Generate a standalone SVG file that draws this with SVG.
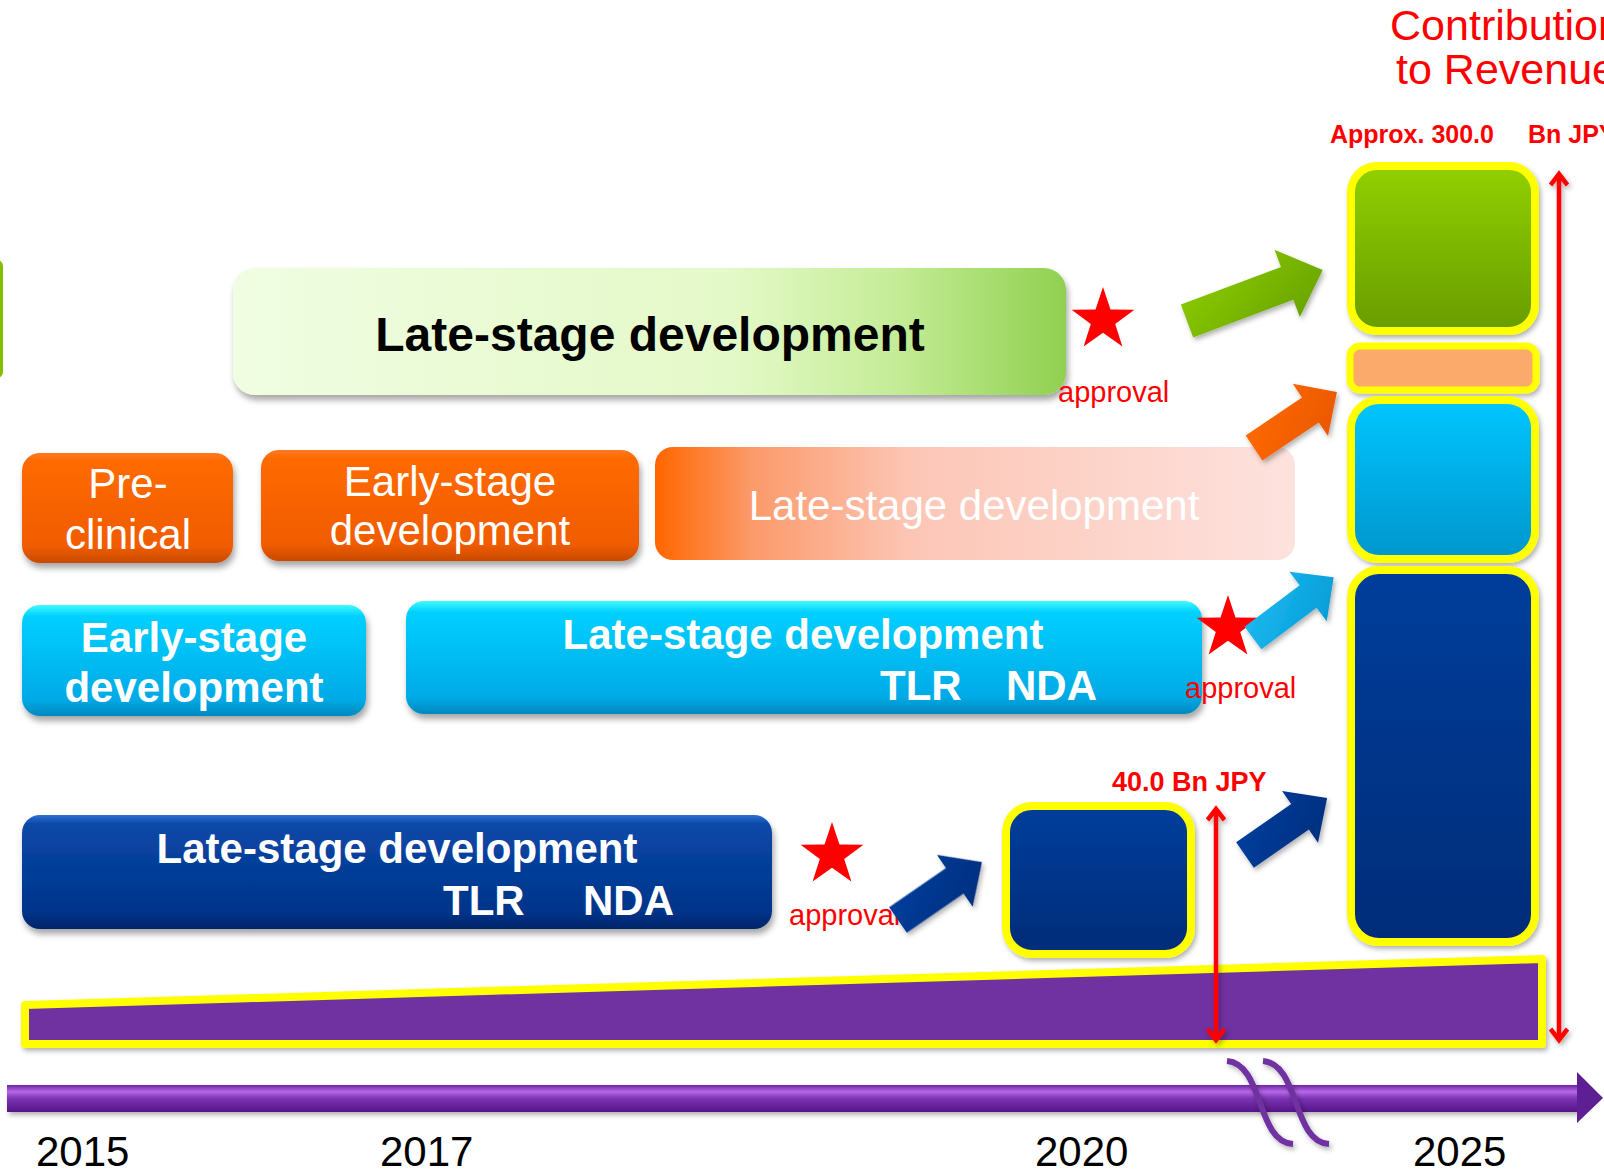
<svg xmlns="http://www.w3.org/2000/svg" width="1604" height="1174" viewBox="0 0 1604 1174">
<defs>
<filter id="sh" x="-10%" y="-20%" width="120%" height="150%"><feDropShadow dx="2" dy="5" stdDeviation="3" flood-color="#000" flood-opacity="0.35"/></filter>
<filter id="sh2" x="-20%" y="-20%" width="140%" height="150%"><feDropShadow dx="2" dy="3" stdDeviation="2.5" flood-color="#000" flood-opacity="0.3"/></filter>
<linearGradient id="gOr" x1="0" y1="0" x2="0" y2="1"><stop offset="0" stop-color="#ff7a20"/><stop offset="0.08" stop-color="#ff6a00"/><stop offset="0.85" stop-color="#f05c00"/><stop offset="1" stop-color="#c84a00"/></linearGradient>
<linearGradient id="gCy" x1="0" y1="0" x2="0" y2="1"><stop offset="0" stop-color="#40faff"/><stop offset="0.1" stop-color="#00d0ff"/><stop offset="0.85" stop-color="#00aae6"/><stop offset="1" stop-color="#0088c0"/></linearGradient>
<linearGradient id="gBl" x1="0" y1="0" x2="0" y2="1"><stop offset="0" stop-color="#3070d0"/><stop offset="0.08" stop-color="#0a48a8"/><stop offset="0.85" stop-color="#00348a"/><stop offset="1" stop-color="#002468"/></linearGradient>
<linearGradient id="gGrL" x1="0" y1="0" x2="1" y2="0"><stop offset="0" stop-color="#f0fde2"/><stop offset="0.6" stop-color="#e4f9c8"/><stop offset="0.8" stop-color="#c4ec96"/><stop offset="1" stop-color="#90d050"/></linearGradient>
<linearGradient id="gOrL" x1="0" y1="0" x2="1" y2="0"><stop offset="0" stop-color="#ff6600"/><stop offset="0.15" stop-color="#fb9a6a"/><stop offset="0.4" stop-color="#fcc6b6"/><stop offset="1" stop-color="#fde2de"/></linearGradient>
<linearGradient id="gGrB" x1="0" y1="0" x2="0" y2="1"><stop offset="0" stop-color="#92d000"/><stop offset="1" stop-color="#689c00"/></linearGradient>
<linearGradient id="gCyB" x1="0" y1="0" x2="0" y2="1"><stop offset="0" stop-color="#00c6ff"/><stop offset="1" stop-color="#0096cc"/></linearGradient>
<linearGradient id="gBlB" x1="0" y1="0" x2="0" y2="1"><stop offset="0" stop-color="#003e9c"/><stop offset="1" stop-color="#002c78"/></linearGradient>
<linearGradient id="gTl" x1="0" y1="0" x2="0" y2="1"><stop offset="0" stop-color="#6a28a0"/><stop offset="0.25" stop-color="#b868ea"/><stop offset="0.5" stop-color="#7a34b2"/><stop offset="1" stop-color="#561488"/></linearGradient>
<linearGradient id="aGr" x1="0" y1="0" x2="1" y2="1"><stop offset="0" stop-color="#8ccc00"/><stop offset="1" stop-color="#66a000"/></linearGradient>
<linearGradient id="aOr" x1="0" y1="0" x2="1" y2="1"><stop offset="0" stop-color="#ff6c00"/><stop offset="1" stop-color="#e85400"/></linearGradient>
<linearGradient id="aCy" x1="0" y1="0" x2="1" y2="1"><stop offset="0" stop-color="#20bcf2"/><stop offset="1" stop-color="#0098d4"/></linearGradient>
<linearGradient id="aBl" x1="0" y1="0" x2="1" y2="1"><stop offset="0" stop-color="#0040a0"/><stop offset="1" stop-color="#002c7a"/></linearGradient>
<marker id="rh" viewBox="0 0 20 20" markerWidth="20" markerHeight="20" refX="16" refY="10" orient="auto-start-reverse" markerUnits="userSpaceOnUse"><path d="M5,1.5 L16,10 L5,18.5" fill="none" stroke="#ff0000" stroke-width="4.5" stroke-linejoin="miter"/></marker>
<style>
text{font-family:"Liberation Sans",Arial,sans-serif}
.w{fill:#fff;font-size:42px;text-anchor:middle}
.wb{fill:#fff;font-size:42px;font-weight:bold}
.red{fill:#ff0000}
.yr{fill:#000;font-size:42px}
.yb{stroke:#ffff00;stroke-width:8}
.ap{fill:#ff0000;font-size:29px}
</style>
</defs>
<rect width="1604" height="1174" fill="#fff"/>

<g id="left-green-edge"><rect x="-20" y="260" width="23" height="118" rx="6" fill="#80c000"/></g>

<g id="green-late"><rect x="233" y="268" width="833" height="127" rx="22" fill="url(#gGrL)" filter="url(#sh)"/>
<text x="650" y="351" style="font-size:48px;font-weight:bold;text-anchor:middle" fill="#000">Late-stage development</text></g>

<g id="pre-clinical"><rect x="22" y="453" width="211" height="110" rx="18" fill="url(#gOr)" filter="url(#sh)"/>
<text class="w" x="128" y="498">Pre-</text><text class="w" x="128" y="549">clinical</text></g>

<g id="orange-early"><rect x="261" y="450" width="378" height="111" rx="18" fill="url(#gOr)" filter="url(#sh)"/>
<text class="w" x="450" y="496">Early-stage</text><text class="w" x="450" y="545">development</text></g>

<g id="orange-late"><rect x="655" y="447" width="640" height="113" rx="18" fill="url(#gOrL)"/>
<text class="w" x="974" y="520">Late-stage development</text></g>

<g id="cyan-early"><rect x="22" y="605" width="344" height="111" rx="18" fill="url(#gCy)" filter="url(#sh)"/>
<text class="wb" x="194" y="652" text-anchor="middle">Early-stage</text><text class="wb" x="194" y="702" text-anchor="middle">development</text></g>

<g id="cyan-late"><rect x="406" y="601" width="796" height="113" rx="18" fill="url(#gCy)" filter="url(#sh)"/>
<text class="wb" x="803" y="649" text-anchor="middle">Late-stage development</text>
<text class="wb" x="880" y="700">TLR</text><text class="wb" x="1006" y="700">NDA</text></g>

<g id="blue-late"><rect x="22" y="815" width="750" height="114" rx="18" fill="url(#gBl)" filter="url(#sh)"/>
<text class="wb" x="397" y="863" text-anchor="middle">Late-stage development</text>
<text class="wb" x="443" y="915">TLR</text><text class="wb" x="583" y="915">NDA</text></g>

<g id="approval-1"><polygon points="1103,287 1110.5,309.6 1134.4,309.7 1115.2,323.9 1122.4,346.6 1103,332.8 1083.6,346.6 1090.8,323.9 1071.6,309.7 1095.5,309.6" fill="#ff0000"/>
<text class="ap" x="1058" y="402">approval</text></g>
<g id="approval-2"><polygon points="1228,595 1235.5,617.6 1259.4,617.7 1240.2,631.9 1247.4,654.6 1228,640.8 1208.6,654.6 1215.8,631.9 1196.6,617.7 1220.5,617.6" fill="#ff0000"/>
<text class="ap" x="1185" y="698">approval</text></g>
<g id="approval-3"><polygon points="832,822 839.5,844.6 863.4,844.7 844.2,858.9 851.4,881.6 832,867.8 812.6,881.6 819.8,858.9 800.6,844.7 824.5,844.6" fill="#ff0000"/>
<text class="ap" x="789" y="925">approval</text></g>

<g id="revenue-2020"><rect x="1006" y="806" width="185" height="148" rx="26" fill="url(#gBlB)" class="yb" filter="url(#sh2)"/></g>

<g id="revenue-2025">
<rect x="1351" y="166" width="184" height="165" rx="26" fill="url(#gGrB)" class="yb" filter="url(#sh2)"/>
<rect x="1350" y="346" width="186" height="44" rx="10" fill="#fcaa6c" stroke="#ffff00" stroke-width="7" filter="url(#sh2)"/>
<rect x="1351" y="400" width="184" height="159" rx="28" fill="url(#gCyB)" class="yb" filter="url(#sh2)"/>
<rect x="1351" y="570" width="184" height="372" rx="28" fill="url(#gBlB)" class="yb" filter="url(#sh2)"/>
</g>

<g id="revenue-wedge"><polygon points="25,1005 1542,959 1542,1044 25,1044" fill="#7030a0" stroke="#ffff00" stroke-width="8" stroke-linejoin="round" filter="url(#sh2)"/></g>

<g id="timeline">
<rect x="7" y="1085" width="1572" height="27" fill="url(#gTl)" filter="url(#sh2)"/>
<polygon points="1577,1072 1603,1098 1577,1123" fill="#5e1e94"/>
<path d="M1227,1061 C1264,1064 1256,1142 1293,1144" fill="none" stroke="#7030a0" stroke-width="6" filter="url(#sh2)"/>
<path d="M1263,1061 C1300,1064 1292,1142 1329,1144" fill="none" stroke="#7030a0" stroke-width="6" filter="url(#sh2)"/>
<text class="yr" x="36" y="1166">2015</text>
<text class="yr" x="380" y="1166">2017</text>
<text class="yr" x="1035" y="1166">2020</text>
<text class="yr" x="1413" y="1166">2025</text>
</g>

<g id="labels">
<text class="red" x="1506" y="40" style="font-size:43px;text-anchor:middle">Contribution</text>
<text class="red" x="1506" y="84" style="font-size:43px;text-anchor:middle">to Revenue</text>
<text class="red" x="1330" y="143" style="font-size:25px;font-weight:bold">Approx. 300.0</text>
<text class="red" x="1528" y="143" style="font-size:25px;font-weight:bold">Bn JPY</text>
<text class="red" x="1112" y="791" style="font-size:27px;font-weight:bold">40.0 Bn JPY</text>
</g>

<g id="connectors">
<g filter="url(#sh2)">
<polygon transform="translate(1187,321) rotate(-20.6)" points="0,-17.5 107,-17.5 107,-36 145,0 107,36 107,17.5 0,17.5" fill="url(#aGr)"/>
<polygon transform="translate(1254,448) rotate(-34)" points="0,-15 68,-15 68,-31.5 100,0 68,31.5 68,15 0,15" fill="url(#aOr)"/>
<polygon transform="translate(1253,638) rotate(-37)" points="0,-14 69,-14 69,-31 101,0 69,31 69,14 0,14" fill="url(#aCy)"/>
<polygon transform="translate(898,920) rotate(-34.6)" points="0,-15.5 69,-15.5 69,-31.5 102,0 69,31.5 69,15.5 0,15.5" fill="url(#aBl)"/>
<polygon transform="translate(1245,855) rotate(-34.8)" points="0,-15.5 67,-15.5 67,-31.5 100,0 67,31.5 67,15.5 0,15.5" fill="url(#aBl)"/>
<line x1="1216" y1="809" x2="1216" y2="1040" stroke="#ff0000" stroke-width="4.5" marker-start="url(#rh)" marker-end="url(#rh)"/>
<line x1="1559" y1="174" x2="1559" y2="1040" stroke="#ff0000" stroke-width="4.5" marker-start="url(#rh)" marker-end="url(#rh)"/>
</g>
</g>
</svg>
